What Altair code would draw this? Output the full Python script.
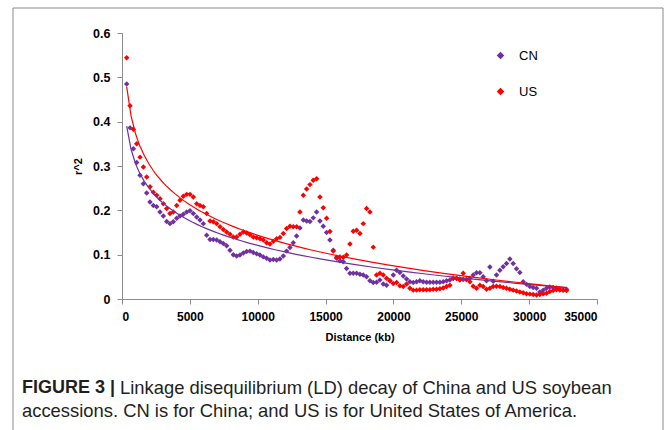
import altair as alt
import pandas as pd

# Distance bins (kb) shared by both populations
distance_kb = [346, 592, 837, 1083, 1328, 1574, 1819, 2065, 2310, 2556,
               2801, 3047, 3292, 3538, 3783, 4029, 4274, 4520, 4765, 5011,
               5256, 5502, 5747, 5993, 6238, 6484, 6729, 6975, 7220, 7466,
               7711, 7957, 8202, 8448, 8693, 8939, 9184, 9430, 9675, 9921,
               10166, 10412, 10657, 10903, 11148, 11394, 11639, 11885, 12130, 12376,
               12621, 12867, 13112, 13358, 13603, 13849, 14094, 14340, 14585, 14831,
               15076, 15322, 15567, 15813, 16058, 16304, 16549, 16795, 17040, 17286,
               17531, 17777, 18022, 18268, 18513, 18759, 19004, 19250, 19495, 19741,
               19986, 20232, 20477, 20723, 20968, 21214, 21459, 21705, 21950, 22196,
               22441, 22687, 22932, 23178, 23423, 23669, 23914, 24160, 24405, 24651,
               24896, 25142, 25387, 25633, 25878, 26124, 26369, 26615, 26860, 27106,
               27351, 27597, 27842, 28088, 28333, 28579, 28824, 29070, 29315, 29561,
               29806, 30052, 30297, 30543, 30788, 31034, 31279, 31525, 31770, 32016,
               32261, 32507, 32752]

cn_r2 = [0.485, 0.386, 0.339, 0.308, 0.279, 0.260, 0.239, 0.219, 0.211, 0.208,
         0.196, 0.187, 0.175, 0.170, 0.174, 0.182, 0.187, 0.191, 0.196, 0.199,
         0.193, 0.185, 0.178, 0.170, 0.144, 0.134, 0.134, 0.133, 0.129, 0.125,
         0.120, 0.110, 0.100, 0.097, 0.099, 0.104, 0.107, 0.108, 0.105, 0.102,
         0.099, 0.095, 0.092, 0.088, 0.089, 0.088, 0.090, 0.097, 0.108, 0.116,
         0.127, 0.142, 0.160, 0.178, 0.176, 0.175, 0.183, 0.196, 0.176, 0.164,
         0.150, 0.133, 0.110, 0.092, 0.086, 0.084, 0.069, 0.058, 0.058, 0.058,
         0.056, 0.054, 0.050, 0.041, 0.037, 0.038, 0.043, 0.034, 0.031, 0.041,
         0.054, 0.065, 0.060, 0.052, 0.045, 0.039, 0.037, 0.039, 0.041, 0.039,
         0.038, 0.038, 0.038, 0.038, 0.038, 0.039, 0.041, 0.043, 0.047, 0.046,
         0.045, 0.044, 0.044, 0.047, 0.054, 0.059, 0.059, 0.050, 0.041, 0.072,
         0.040, 0.054, 0.065, 0.073, 0.080, 0.090, 0.080, 0.068, 0.060, 0.039,
         0.033, 0.028, 0.026, 0.024, 0.016, 0.020, 0.024, 0.027, 0.026, 0.025,
         0.020, 0.020, 0.022]

us_r2 = [0.544, 0.436, 0.383, 0.350, 0.320, 0.298, 0.275, 0.253, 0.241, 0.234,
         0.226, 0.215, 0.204, 0.193, 0.196, 0.211, 0.223, 0.232, 0.236, 0.236,
         0.230, 0.215, 0.211, 0.208, 0.193, 0.176, 0.174, 0.170, 0.163, 0.157,
         0.151, 0.146, 0.140, 0.140, 0.146, 0.151, 0.149, 0.145, 0.140, 0.138,
         0.136, 0.133, 0.127, 0.124, 0.130, 0.136, 0.139, 0.148, 0.159, 0.164,
         0.163, 0.163, 0.196, 0.234, 0.248, 0.258, 0.268, 0.271, 0.230, 0.206,
         0.182, 0.152, 0.108, 0.094, 0.095, 0.094, 0.099, 0.124, 0.153, 0.155,
         0.148, 0.170, 0.204, 0.196, 0.117, 0.054, 0.058, 0.054, 0.047, 0.041,
         0.035, 0.037, 0.030, 0.028, 0.034, 0.024, 0.020, 0.020, 0.021, 0.021,
         0.021, 0.021, 0.022, 0.022, 0.023, 0.025, 0.028, 0.031, 0.047, 0.047,
         0.043, 0.058, 0.044, 0.039, 0.029, 0.024, 0.031, 0.028, 0.022, 0.024,
         0.028, 0.029, 0.028, 0.026, 0.024, 0.022, 0.020, 0.018, 0.016, 0.014,
         0.012, 0.011, 0.010, 0.009, 0.010, 0.012, 0.013, 0.017, 0.019, 0.021,
         0.022, 0.020, 0.019]

series_names = ["CN", "US"]
series_colors = ["#7030A0", "#FF0000"]

x_ticks = [0, 5000, 10000, 15000, 20000, 25000, 30000, 35000]
y_ticks = [0, 0.1, 0.2, 0.3, 0.4, 0.5, 0.6]

x_title = "Distance (kb)"
y_title = "r^2"
caption_bold = "FIGURE 3 |"
caption_line1 = "Linkage disequilibrium (LD) decay of China and US soybean"
caption_line2 = "accessions. CN is for China; and US is for United States of America."

df = pd.DataFrame({
    "Distance": distance_kb + distance_kb,
    "r2": cn_r2 + us_r2,
    "Population": ["CN"] * len(cn_r2) + ["US"] * len(us_r2),
})

W, H = 475, 266
AXIS_GREY = "#8c8c8c"
FONT = "Liberation Sans"

x_enc = alt.X(
    "Distance:Q",
    scale=alt.Scale(domain=[0, 35000], nice=False, zero=False),
    axis=alt.Axis(values=x_ticks, format="d", title=x_title, grid=False,
                  domainColor=AXIS_GREY, tickColor=AXIS_GREY, tickSize=5,
                  labelFont=FONT, labelFontWeight="bold", labelFontSize=12,
                  labelColor="#000000", labelPadding=7,
                  titleFont=FONT, titleFontWeight="bold", titleFontSize=11,
                  titleColor="#000000", titlePadding=9),
)
y_enc = alt.Y(
    "r2:Q",
    scale=alt.Scale(domain=[0, 0.6], nice=False),
    axis=alt.Axis(values=y_ticks, format=".1~f", title=y_title, grid=False,
                  domainColor=AXIS_GREY, tickColor=AXIS_GREY, tickSize=5,
                  labelFont=FONT, labelFontWeight="bold", labelFontSize=12.5,
                  labelColor="#000000", labelPadding=7,
                  titleFont=FONT, titleFontWeight="bold", titleFontSize=11,
                  titleColor="#000000", titlePadding=9),
)
color_scale = alt.Scale(domain=series_names, range=series_colors)

points = alt.Chart(df).mark_point(
    shape="diamond", filled=True, size=30, opacity=1
).encode(
    x=x_enc,
    y=y_enc,
    color=alt.Color("Population:N", scale=color_scale,
                    legend=alt.Legend(title=None, orient="none", legendX=372, legendY=16,
                                      symbolType="diamond", symbolSize=30,
                                      labelFont=FONT, labelFontSize=13,
                                      labelColor="#000000", labelOffset=12,
                                      rowPadding=22)),
)

trend = alt.Chart(df).transform_regression(
    "Distance", "r2", method="log", groupby=["Population"]
).mark_line(strokeWidth=1.2).encode(
    x="Distance:Q",
    y="r2:Q",
    color=alt.Color("Population:N", scale=color_scale, legend=None),
)

deco = alt.Data(values=[{"k": 1}])
frame = alt.Chart(deco).mark_rect(fill=None, stroke="#8a8a8a", strokeWidth=1).encode(
    x=alt.value(-109), x2=alt.value(541), y=alt.value(-25), y2=alt.value(420)
)
cap_b = alt.Chart(deco).mark_text(
    text=caption_bold, font=FONT, fontSize=18, fontWeight="bold",
    align="left", baseline="middle", color="#231f20"
).encode(x=alt.value(-100), y=alt.value(355))
cap_1 = alt.Chart(deco).mark_text(
    text=caption_line1, font=FONT, fontSize=18.4,
    align="left", baseline="middle", color="#231f20"
).encode(x=alt.value(-2), y=alt.value(355))
cap_2 = alt.Chart(deco).mark_text(
    text=caption_line2, font=FONT, fontSize=18.4,
    align="left", baseline="middle", color="#231f20"
).encode(x=alt.value(-100), y=alt.value(378))

chart = alt.layer(frame, points, trend, cap_b, cap_1, cap_2).properties(
    width=W, height=H,
    autosize=alt.AutoSizeParams(type="none"),
    padding={"left": 122, "top": 33, "right": 75, "bottom": 131},
    background="white",
).configure_view(stroke=None)

chart.save("out.html", embed_options={"renderer": "svg", "actions": False})
